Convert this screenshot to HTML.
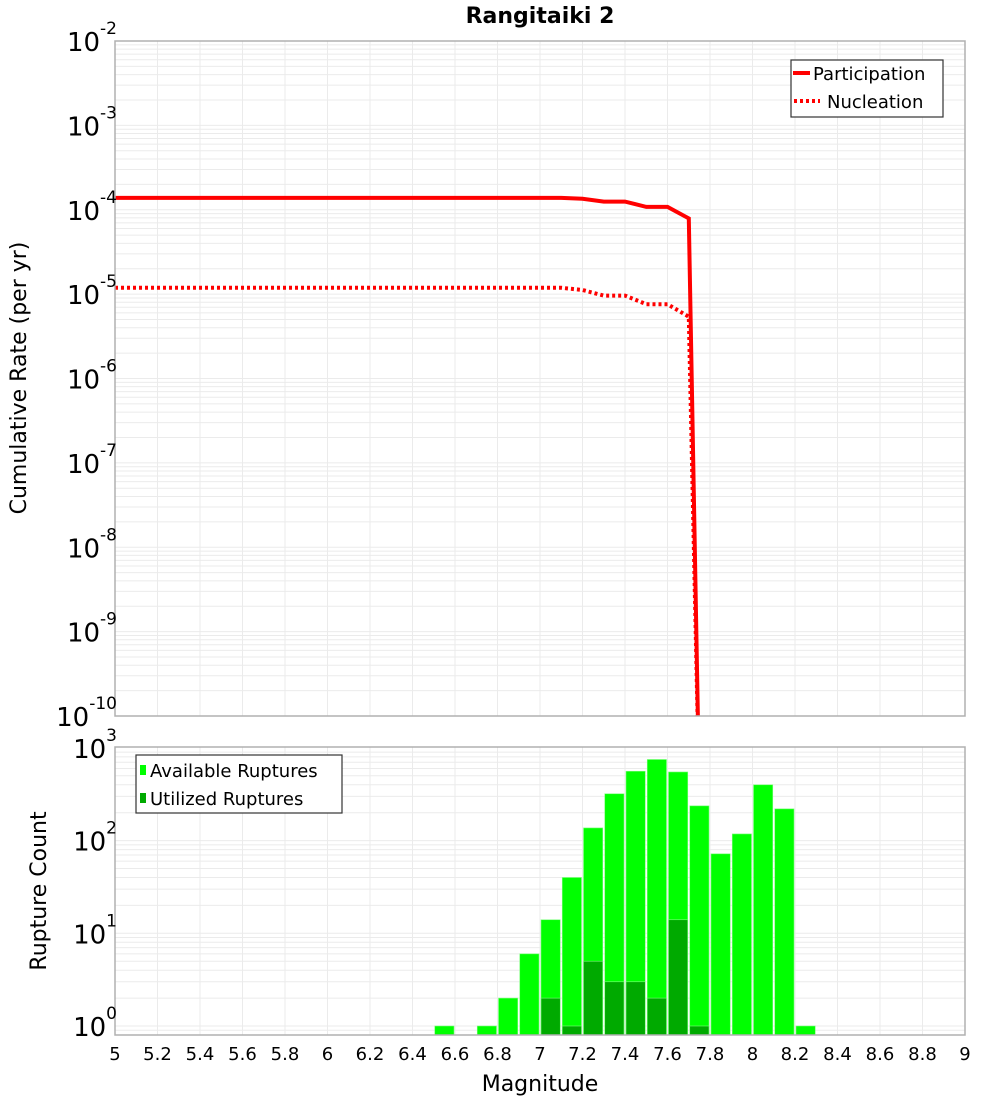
<!DOCTYPE html>
<html><head><meta charset="utf-8"><style>
body{margin:0;background:#fff;}
svg text{font-family:"DejaVu Sans","Liberation Sans",sans-serif;fill:#000;}
</style></head><body>
<svg id="chart" width="1000" height="1100" xmlns="http://www.w3.org/2000/svg">
<text x="540" y="23" text-anchor="middle" font-size="22" font-weight="bold">Rangitaiki 2</text>
<g id="topPlot"></g>
<g id="botPlot"></g>
<text transform="translate(26,378) rotate(-90)" text-anchor="middle" font-size="22">Cumulative Rate (per yr)</text>
<text transform="translate(46,891) rotate(-90)" text-anchor="middle" font-size="22">Rupture Count</text>
<text x="540" y="1091" text-anchor="middle" font-size="22">Magnitude</text>
</svg>
<script>
const partMags=[5.0,5.1,5.2,5.3,5.4,5.5,5.6,5.7,5.8,5.9,6.0,6.1,6.2,6.3,6.4,6.5,6.6,6.7,6.8,6.9,7.0,7.1,7.2,7.3,7.4,7.5,7.6,7.7,7.75];
const partRates=[1.38e-4,1.38e-4,1.38e-4,1.38e-4,1.38e-4,1.38e-4,1.38e-4,1.38e-4,1.38e-4,1.38e-4,1.38e-4,1.38e-4,1.38e-4,1.38e-4,1.38e-4,1.38e-4,1.38e-4,1.38e-4,1.38e-4,1.38e-4,1.38e-4,1.38e-4,1.35e-4,1.25e-4,1.25e-4,1.08e-4,1.08e-4,7.9e-5,1e-11];
const nuclRates=[1.19e-5,1.19e-5,1.19e-5,1.19e-5,1.19e-5,1.19e-5,1.19e-5,1.19e-5,1.19e-5,1.19e-5,1.19e-5,1.19e-5,1.19e-5,1.19e-5,1.19e-5,1.19e-5,1.19e-5,1.19e-5,1.19e-5,1.19e-5,1.19e-5,1.19e-5,1.12e-5,9.6e-6,9.6e-6,7.6e-6,7.6e-6,5.4e-6,1e-11];
const binStarts=[6.5,6.6,6.7,6.8,6.9,7.0,7.1,7.2,7.3,7.4,7.5,7.6,7.7,7.8,7.9,8.0,8.1,8.2];
const availCounts=[1,0,1,2,6,14,40,137,320,560,750,550,237,72,118,400,220,1];
const usedCounts=[0,0,0,0,0,2,1,5,3,3,2,14,1,0,0,0,0,0];
const xTicks=[5,5.2,5.4,5.6,5.8,6,6.2,6.4,6.6,6.8,7,7.2,7.4,7.6,7.8,8,8.2,8.4,8.6,8.8,9];
const topDecades=[-2,-3,-4,-5,-6,-7,-8,-9,-10];
const botDecades=[3,2,1,0];

const NS="http://www.w3.org/2000/svg";
const L=115,R=965,T1=41,B1=716,T2=747,B2=1035;
const xs=m=>L+(m-5)/4*(R-L);
const y1=v=>T1+(-2-Math.log10(v))/8*(B1-T1);
const zeroY=1026,dec2=92.7;
const y2=v=>zeroY-Math.log10(v)*dec2;
function mk(tag,attrs,parent){const e=document.createElementNS(NS,tag);for(const k in attrs)e.setAttribute(k,attrs[k]);parent.appendChild(e);return e;}
const topG=document.getElementById('topPlot'),botG=document.getElementById('botPlot'),svgEl=document.getElementById('chart');

const defs=mk('defs',{},svgEl);
const c1=mk('clipPath',{id:'c1'},defs);mk('rect',{x:L,y:T1,width:R-L,height:B1-T1},c1);
const c2=mk('clipPath',{id:'c2'},defs);mk('rect',{x:L,y:T2,width:R-L,height:B2-T2},c2);

function grid(g,T,B,yf,dmin,dmax){
  const gg=mk('g',{},g);
  
  
  for(let d=dmin;d<dmax;d++)for(let k=1;k<10;k++){const yy=yf(k*Math.pow(10,d));if(yy>=T&&yy<=B)mk('line',{x1:L,x2:R,y1:yy,y2:yy,stroke:'#ebebeb','stroke-width':1},gg);}
  xTicks.forEach(t=>{mk('line',{x1:xs(t),x2:xs(t),y1:T,y2:B,stroke:'#ebebeb','stroke-width':1},gg);});
}
grid(topG,T1,B1,y1,-10,-2);
grid(botG,T2,B2,y2,-1,3);

function drawLine(vals,dash,name){
  let d='';partMags.forEach((m,i)=>{d+=(i?'L':'M')+xs(m).toFixed(1)+','+y1(vals[i]).toFixed(1);});
  const p=mk('path',{d:d,fill:'none',stroke:'#ff0000','stroke-width':4,'clip-path':'url(#c1)'},topG);
  if(dash)p.setAttribute('stroke-dasharray','3,3');
  
  
}
drawLine(nuclRates,true,'nucleation-line');
drawLine(partRates,false,'participation-line');
mk('rect',{x:L,y:T1,width:R-L,height:B1-T1,fill:'none',stroke:'#b0b0b0','stroke-width':1.5},topG);

function bars(vals,color,name){
  vals.forEach((v,i)=>{if(v<=0)return;
    const x0=xs(binStarts[i])+1,x1=xs(binStarts[i]+0.1)-1,yy=y2(v);
    const r=mk('rect',{x:x0,y:yy,width:x1-x0,height:B2-yy,fill:color,stroke:'#7dff7d','stroke-width':0.6,'clip-path':'url(#c2)'},botG);
    
    
  });
}
bars(availCounts,'#00ff00','available-bar');
bars(usedCounts,'#00aa00','utilized-bar');
mk('rect',{x:L,y:T2,width:R-L,height:B2-T2,fill:'none',stroke:'#b0b0b0','stroke-width':1.5},botG);

function ylab(g,yy,e,name){
  const s=mk('text',{x:117,y:yy-7,'text-anchor':'end','font-size':17},g);
  
  
  s.textContent=String(e);
  let w=8*String(e).length;
  try{w=s.getComputedTextLength();}catch(err){}
  const t=mk('text',{x:117-w,y:yy+10,'text-anchor':'end','font-size':26},g);
  
  
  t.textContent='10';
}
topDecades.forEach(d=>ylab(topG,y1(Math.pow(10,d)),d,'y-tick-rate'));
botDecades.forEach(d=>ylab(botG,y2(Math.pow(10,d)),d,'y-tick-count'));

xTicks.forEach(t=>{
  const tx=mk('text',{x:xs(t),y:1060,'text-anchor':'middle','font-size':18},botG);
  
  
  tx.textContent=String(t);
});

const lg1=mk('g',{},topG);


mk('rect',{x:791,y:60,width:152,height:57,fill:'#fff',stroke:'#333','stroke-width':1.2},lg1);
mk('line',{x1:793,x2:810,y1:73,y2:73,stroke:'#f00','stroke-width':4},lg1);
mk('line',{x1:794,x2:820,y1:101,y2:101,stroke:'#f00','stroke-width':4,'stroke-dasharray':'3,3'},lg1);
let lt=mk('text',{x:813,y:80,'font-size':18},lg1);lt.textContent='Participation';

lt=mk('text',{x:827,y:108,'font-size':18},lg1);lt.textContent='Nucleation';


const lg2=mk('g',{},botG);


mk('rect',{x:136,y:755,width:206,height:58,fill:'#fff',stroke:'#333','stroke-width':1.2},lg2);
mk('rect',{x:140,y:765,width:6,height:10,fill:'#00ff00'},lg2);
mk('rect',{x:140,y:793,width:6,height:10,fill:'#00aa00'},lg2);
lt=mk('text',{x:150,y:777,'font-size':18},lg2);lt.textContent='Available Ruptures';

lt=mk('text',{x:150,y:805,'font-size':18},lg2);lt.textContent='Utilized Ruptures';

</script>
</body></html>
